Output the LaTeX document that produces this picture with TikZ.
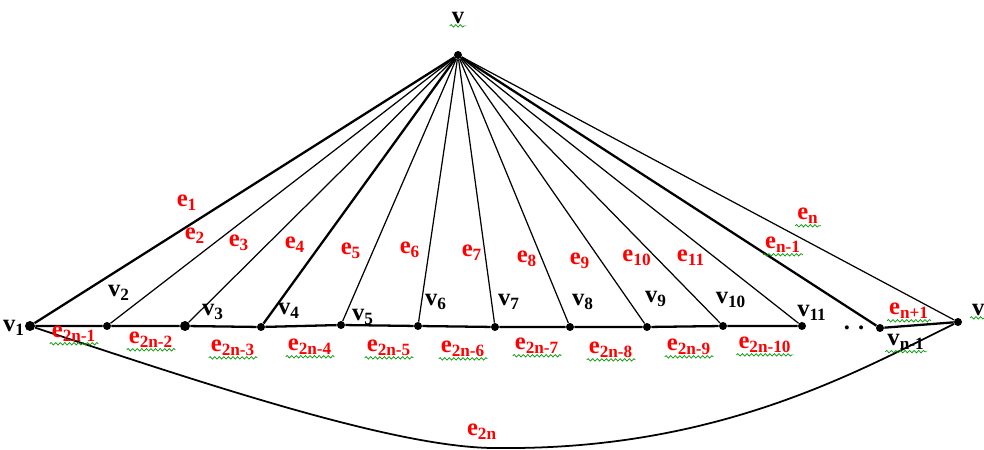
\documentclass[tikz,border=0pt]{standalone}
\usepackage{fontspec}
\setmainfont{Liberation Serif}
\usetikzlibrary{decorations.pathmorphing}
\tikzset{
  dot/.style={circle,fill,inner sep=0pt,minimum size=1.6mm},
  vlab/.style={inner sep=1pt,font=\bfseries\fontsize{14}{16}\selectfont},
  elab/.style={vlab,text=red},
  edge/.style={line width=0.7pt},
  heavy/.style={line width=1.3pt},
  squig/.style={draw=green!60!black,line width=0.4pt,decorate,
    decoration={snake,amplitude=0.7pt,segment length=2.6pt}}
}
\begin{document}
\begin{tikzpicture}[x=0.2mm,y=-0.2mm]
\useasboundingbox (0,0) rectangle (984,450);
% vertices
\node[dot] (v) at (458,55) {};
\node[dot,minimum size=2mm] (v1) at (30,326) {};
\node[dot] (v2) at (107,326) {};
\node[dot,minimum size=2mm] (v3) at (185,326) {};
\node[dot] (v4) at (261,327) {};
\node[dot] (v5) at (341,325) {};
\node[dot] (v6) at (418,326) {};
\node[dot] (v7) at (495,327) {};
\node[dot] (v8) at (570,327) {};
\node[dot] (v9) at (647,327) {};
\node[dot] (v10) at (723,326) {};
\node[dot] (v11) at (802,326) {};
\node[dot] (vm) at (880,328) {};
\node[dot] (vn) at (958,322) {};
% spokes
\draw[heavy] (v) -- (v1);
\foreach \i in {2,3,5,6,7,8,9,10,11}
  \draw[edge] (v) -- (v\i);
\draw[heavy] (v) -- (v4);
\draw[heavy] (v) -- (vm);
\draw[edge] (v) -- (vn);
% rim
\draw[heavy] (v1) -- (v2) -- (v3) -- (v4) -- (v5) -- (v6) -- (v7)
  -- (v8) -- (v9) -- (v10) -- (v11);
\draw[heavy] (vm) -- (vn);
\coordinate (low) at (500,448);
\draw[line width=1pt] (v1) .. controls (200,382) and (400,450) .. (low)
  .. controls (720,450) and (860,370) .. (vn);
% vertex labels
\node[vlab] (lv) at (458,18) {v};
\node[vlab] (l1) at (14,328) {v\textsubscript{1}};
\node[vlab] (l2) at (119,293) {v\textsubscript{2}};
\node[vlab] (l3) at (213,312) {v\textsubscript{3}};
\node[vlab] (l4) at (289,311) {v\textsubscript{4}};
\node[vlab] (l5) at (363,317) {v\textsubscript{5}};
\node[vlab] (l6) at (436,302) {v\textsubscript{6}};
\node[vlab] (l7) at (509,302) {v\textsubscript{7}};
\node[vlab] (l8) at (583,302) {v\textsubscript{8}};
\node[vlab] (l9) at (656,299) {v\textsubscript{9}};
\node[vlab] (l10) at (731,300) {v\textsubscript{10}};
\node[vlab] (l11) at (812,313) {v\textsubscript{11}};
\node[vlab] (ldots) at (854,328) {. .};
\node[vlab] (lm) at (906,342) {v\textsubscript{n-1}};
\node[vlab,anchor=west] (ln) at (970,310) {v};
% edge labels
\node[elab] (e1) at (187,203) {e\textsubscript{1}};
\node[elab] (e2) at (195,236) {e\textsubscript{2}};
\node[elab] (e3) at (239,243) {e\textsubscript{3}};
\node[elab] (e4) at (295,245) {e\textsubscript{4}};
\node[elab] (e5) at (351,251) {e\textsubscript{5}};
\node[elab] (e6) at (410,250) {e\textsubscript{6}};
\node[elab] (e7) at (472,253) {e\textsubscript{7}};
\node[elab] (e8) at (527,259) {e\textsubscript{8}};
\node[elab] (e9) at (580,261) {e\textsubscript{9}};
\node[elab] (e10) at (637,258) {e\textsubscript{10}};
\node[elab] (e11) at (691,258) {e\textsubscript{11}};
\node[elab] (en) at (808,216) {e\textsubscript{n}};
\node[elab] (enm) at (783,245) {e\textsubscript{n-1}};
\node[elab] (enp) at (909,311) {e\textsubscript{n+1}};
\node[elab] (f1) at (74,334) {e\textsubscript{2n-1}};
\node[elab] (f2) at (151,340) {e\textsubscript{2n-2}};
\node[elab] (f3) at (233,348) {e\textsubscript{2n-3}};
\node[elab] (f4) at (310,347) {e\textsubscript{2n-4}};
\node[elab] (f5) at (389,348) {e\textsubscript{2n-5}};
\node[elab] (f6) at (463,349) {e\textsubscript{2n-6}};
\node[elab] (f7) at (537,346) {e\textsubscript{2n-7}};
\node[elab] (f8) at (611,350) {e\textsubscript{2n-8}};
\node[elab] (f9) at (689,347) {e\textsubscript{2n-9}};
\node[elab] (f10) at (765,345) {e\textsubscript{2n-10}};
\node[elab] (f11) at (482,432) {e\textsubscript{2n}};
% spell-check marks
\foreach \l in {lv,lm,ln,en,enm,enp,f1,f2,f3,f4,f5,f6,f7,f8,f9,f10}
  \draw[squig] (\l.south west) -- (\l.south east);
\end{tikzpicture}
\end{document}
